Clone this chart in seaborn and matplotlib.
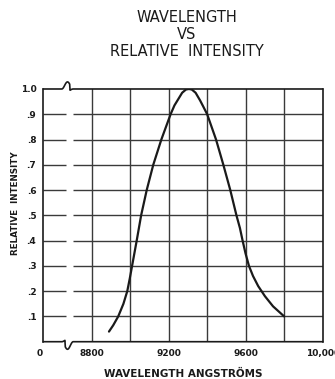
import numpy as np
import matplotlib
matplotlib.use('Agg')
import matplotlib.pyplot as plt
import matplotlib.transforms as mtransforms
import seaborn as sns

# values
wavelength = [8890, 8912, 8938, 8965, 8985, 8998, 9010, 9022, 9034, 9057,
              9086, 9120, 9162, 9210, 9230, 9250, 9270, 9290, 9305, 9320,
              9340, 9363, 9380, 9400, 9446, 9484, 9520, 9552, 9570, 9584,
              9599, 9617, 9638, 9665, 9700, 9742, 9800]
intensity = [0.04, 0.065, 0.10, 0.15, 0.20, 0.25, 0.30, 0.35, 0.40, 0.50,
             0.60, 0.70, 0.80, 0.90, 0.935, 0.96, 0.985, 0.998, 1.00, 0.998,
             0.985, 0.955, 0.93, 0.90, 0.80, 0.70, 0.60, 0.50, 0.45, 0.40,
             0.35, 0.30, 0.26, 0.22, 0.18, 0.14, 0.10]

x_ticks = [8549, 8800, 9200, 9600, 10000]
x_ticklabels = ['0', '8800', '9200', '9600', '10,000']
x_grid = [8800, 9000, 9200, 9400, 9600, 9800]
y_ticks = [0.1, 0.2, 0.3, 0.4, 0.5, 0.6, 0.7, 0.8, 0.9, 1.0]
y_ticklabels = ['.1', '.2', '.3', '.4', '.5', '.6', '.7', '.8', '.9', '1.0']

sns.set_style('white')
plt.rcParams['font.family'] = ['DejaVu Sans']

fig = plt.figure(figsize=(3.35, 3.79), dpi=100)
ax = fig.add_axes([0.1293, 0.0984, 0.834, 0.6668])

ink = '#1a1a1a'
grid = '#3a3a3a'

# grid lines, horizontal ones broken at the axis break
for xv in x_grid:
    ax.axvline(xv, color=grid, lw=1.0, zorder=1)
for yv in y_ticks[:-1]:
    ax.hlines(yv, 8549, 8667, color=grid, lw=1.0, zorder=1)
    ax.hlines(yv, 8705, 10000, color=grid, lw=1.0, zorder=1)

sns.lineplot(x=wavelength, y=intensity, ax=ax, color=ink, lw=1.6,
             sort=False, zorder=3)

ax.set_xlim(8549, 10000)
ax.set_ylim(0, 1.0)
ax.set_xticks(x_ticks)
ax.set_xticklabels(x_ticklabels, fontsize=6.5, fontweight='bold', color=ink)
ax.set_yticks(y_ticks)
ax.set_yticklabels(y_ticklabels, fontsize=6.5, fontweight='bold', color=ink)
ax.tick_params(length=0, pad=5)

# the "0" label sits a little left of the axis
lab0 = ax.get_xticklabels()[0]
lab0.set_transform(lab0.get_transform() +
                   mtransforms.ScaledTranslation(-4 / 100, 0, fig.dpi_scale_trans))

for s in ['left', 'right']:
    ax.spines[s].set_color(ink)
    ax.spines[s].set_linewidth(1.2)
ax.spines['top'].set_visible(False)
ax.spines['bottom'].set_visible(False)

# top and bottom frame with the break squiggle
t = np.linspace(0, 1, 30)
bx = 0.066 + 0.041 * t
top_y = 1 + 0.028 * np.sin(np.pi * t) ** 2 * np.where(t < 0.7, 1, -0.3)
bot_y = 0 - 0.030 * np.sin(np.pi * t) ** 2 * np.where(t > 0.3, 1, -0.3)
for yy, base in [(top_y, 1), (bot_y, 0)]:
    xs = np.concatenate([[0], bx, [1]])
    ys = np.concatenate([[base], yy, [base]])
    ax.plot(xs, ys, color=ink, lw=1.2, transform=ax.transAxes,
            clip_on=False, zorder=4)

ax.set_xlabel('WAVELENGTH ANGSTRÖMS', fontsize=7.5, fontweight='bold',
              color=ink, labelpad=8)
ax.set_ylabel('RELATIVE  INTENSITY', fontsize=6.3, fontweight='bold',
              color=ink)
ax.yaxis.set_label_coords(-0.085, 0.55)

fig.text(0.558, 0.953, 'WAVELENGTH', ha='center', va='center',
         fontsize=10.5, color=ink)
fig.text(0.558, 0.908, 'VS', ha='center', va='center',
         fontsize=10.5, color=ink)
fig.text(0.558, 0.863, 'RELATIVE  INTENSITY', ha='center', va='center',
         fontsize=10.5, color=ink)

fig.savefig('out.png', dpi=100, facecolor='white')
